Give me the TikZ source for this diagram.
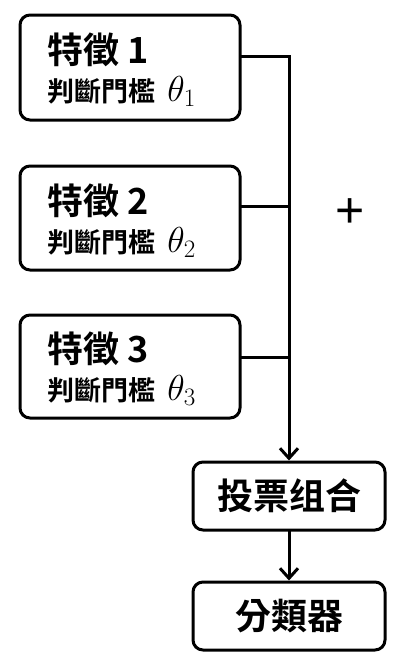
\documentclass[tikz,border=0pt]{standalone}
\usepackage{graphicx}
\usepackage{fontspec}
\setmainfont{Noto Sans CJK TC}[BoldFont={Noto Sans CJK TC Bold}]
\newfontfamily\plusfont{Liberation Sans}
\usetikzlibrary{arrows.meta}
\newcommand{\thr}[1]{\scalebox{1.45}{$\theta_{#1}$}}
\tikzset{
  box/.style={draw=black, line width=3pt, rounded corners=10pt, fill=white, inner sep=0pt},
  bigtxt/.style={font=\fontsize{36}{40}\selectfont\bfseries, inner sep=0pt, anchor=base west},
  smalltxt/.style={font=\fontsize{27}{30}\selectfont\bfseries, inner sep=0pt, anchor=base west},
  conn/.style={line width=3pt, line cap=rect},
  arr/.style={conn, -{Straight Barb[length=10pt,width=18pt,line width=3pt]}},
}
\begin{document}
\begin{tikzpicture}[x=1pt,y=-1pt]
\useasboundingbox (0,0) rectangle (419,659);
% feature boxes
\node[box, minimum width=220pt, minimum height=105pt] (b1) at (130,67.5) {};
\node[box, minimum width=220pt, minimum height=104pt] (b2) at (130,218) {};
\node[box, minimum width=220pt, minimum height=103pt] (b3) at (130,366.5) {};
\node[bigtxt] (t1a) at (47,63) {特徵 1};
\node[smalltxt] (t1b) at (47,101) {判斷門檻\ \ \thr{1}};
\node[bigtxt] (t2a) at (47,214) {特徵 2};
\node[smalltxt] (t2b) at (47,252) {判斷門檻\ \ \thr{2}};
\node[bigtxt] (t3a) at (47,362) {特徵 3};
\node[smalltxt] (t3b) at (47,400) {判斷門檻\ \ \thr{3}};
% vote and classifier
\node[box, minimum width=192pt, minimum height=68pt, font=\fontsize{36}{40}\selectfont\bfseries] (b4) at (289,496) {投票组合};
\node[box, minimum width=192pt, minimum height=68pt, font=\fontsize{36}{40}\selectfont\bfseries] (b5) at (289,616) {分類器};
% connectors
\draw[arr] ([yshift=11pt]b1.east) -| (b4.north);
\draw[conn] ([yshift=12pt]b2.east) -- ([yshift=12pt]b2.east -| b4.north);
\draw[conn] ([yshift=9pt]b3.east) -- ([yshift=9pt]b3.east -| b4.north);
\draw[arr] (b4.south) -- (b5.north);
\node[font=\plusfont\fontsize{50}{50}\selectfont, inner sep=0pt] (plus) at (350,213) {+};
\end{tikzpicture}
\end{document}
